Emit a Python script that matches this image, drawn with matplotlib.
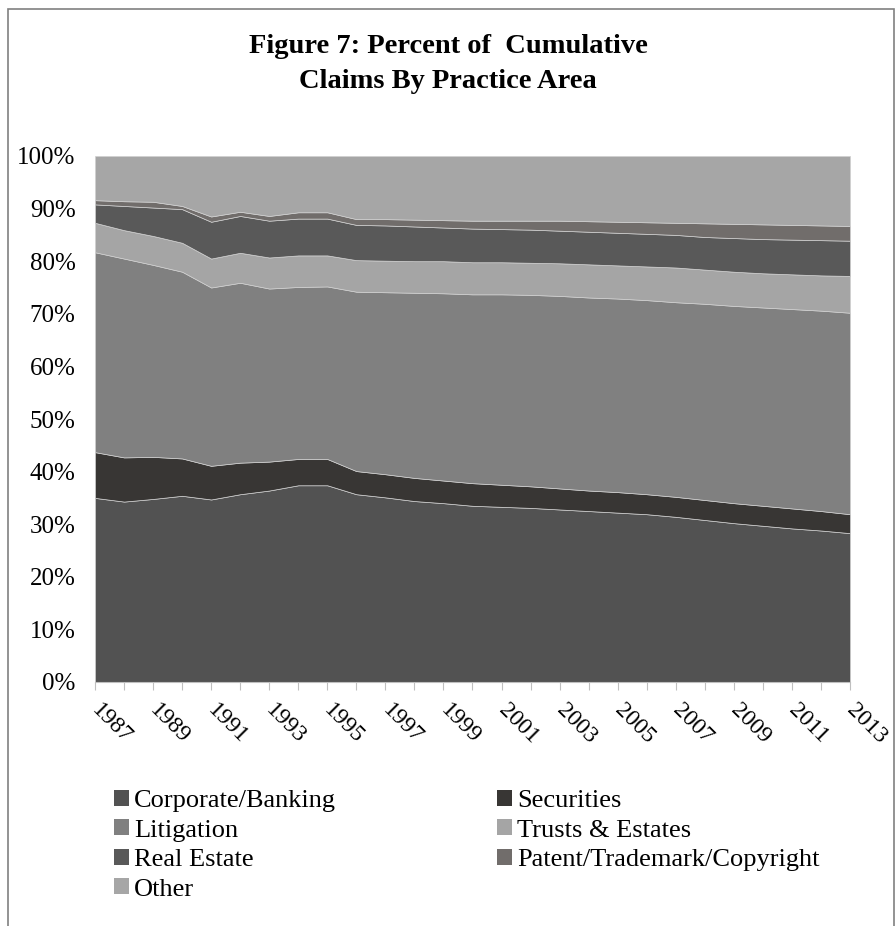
import numpy as np
import matplotlib.pyplot as plt
from matplotlib.patches import Rectangle, Patch

# shares of cumulative claims, percent
years = list(range(1987, 2014))
corporate = [35.0, 34.3, 34.8, 35.4, 34.7, 35.7, 36.4, 37.4, 37.4, 35.7, 35.1, 34.4, 34.0, 33.5,
             33.3, 33.1, 32.8, 32.5, 32.2, 31.9, 31.4, 30.8, 30.2, 29.7, 29.2, 28.8, 28.3]
securities = [8.7, 8.4, 8.0, 7.1, 6.4, 6.0, 5.5, 5.0, 5.0, 4.4, 4.4, 4.4, 4.3, 4.3,
              4.2, 4.1, 4.0, 3.9, 3.9, 3.8, 3.8, 3.8, 3.8, 3.8, 3.8, 3.7, 3.6]
litigation = [38.0, 37.8, 36.5, 35.5, 33.9, 34.2, 32.9, 32.7, 32.8, 34.1, 34.6, 35.2, 35.6, 35.9,
              36.2, 36.4, 36.6, 36.7, 36.8, 36.9, 37.0, 37.3, 37.5, 37.7, 37.9, 38.1, 38.3]
trusts = [5.6, 5.4, 5.5, 5.5, 5.5, 5.7, 5.9, 6.0, 5.9, 6.0, 6.0, 6.0, 6.1, 6.1,
          6.1, 6.1, 6.2, 6.3, 6.3, 6.4, 6.6, 6.5, 6.5, 6.5, 6.6, 6.7, 7.0]
real_estate = [3.5, 4.6, 5.4, 6.4, 7.0, 7.0, 7.0, 7.0, 7.0, 6.7, 6.7, 6.6, 6.4, 6.4,
               6.3, 6.3, 6.2, 6.2, 6.2, 6.2, 6.2, 6.2, 6.4, 6.5, 6.6, 6.7, 6.7]
patent = [0.8, 0.9, 1.1, 0.6, 1.0, 0.8, 0.9, 1.2, 1.2, 1.1, 1.2, 1.3, 1.4, 1.5,
          1.6, 1.7, 1.9, 2.0, 2.1, 2.2, 2.3, 2.6, 2.7, 2.8, 2.8, 2.8, 2.8]
other = [8.4, 8.6, 8.7, 9.5, 11.5, 10.6, 11.4, 10.7, 10.7, 12.0, 12.0, 12.1, 12.2, 12.3,
         12.3, 12.3, 12.3, 12.4, 12.5, 12.6, 12.7, 12.8, 12.9, 13.0, 13.1, 13.2, 13.3]

labels = ['Corporate/Banking', 'Securities', 'Litigation', 'Trusts & Estates',
          'Real Estate', 'Patent/Trademark/Copyright', 'Other']
colors = ['#525252', '#383634', '#808080', '#a5a5a5', '#595959', '#716d6b', '#a6a6a6']

plt.rcParams['font.family'] = ['Liberation Serif', 'DejaVu Serif']

fig = plt.figure(figsize=(8.96, 9.26), dpi=100)
fig.patches.append(Rectangle((8 / 896, -0.01), 886 / 896, 1.0, transform=fig.transFigure,
                             fill=False, edgecolor='#808080', lw=1.2))

ax = fig.add_axes([95 / 896, 1 - 682 / 926, 755 / 896, 526 / 926])
ax.stackplot(years, corporate, securities, litigation, trusts, real_estate, patent, other,
             colors=colors, edgecolor='#d0d0d0', linewidth=0.5)

ax.set_xlim(1987, 2013)
ax.set_ylim(0, 100)
ax.set_yticks(np.arange(0, 101, 10))
ax.set_yticklabels([f'{v}%' for v in range(0, 101, 10)], fontsize=18)
ax.set_xticks(years)
ax.set_xticklabels([str(y) if (y - 1987) % 2 == 0 else '' for y in years],
                   fontsize=17, rotation=-45, ha='left', va='center', rotation_mode='anchor')
ax.tick_params(axis='y', length=0, pad=14)
ax.tick_params(axis='x', length=6, color='#bfbfbf', direction='out', pad=12)
for s in ['top', 'right', 'left']:
    ax.spines[s].set_visible(False)
ax.spines['bottom'].set_color('#bfbfbf')

fig.text(0.5, 1 - 64 / 926, 'Figure 7: Percent of  Cumulative\nClaims By Practice Area',
         ha='center', va='center', fontsize=20.5, fontweight='bold', linespacing=1.5)

handles = [Patch(facecolor=c, edgecolor='none') for c in colors]
kw = dict(loc='upper left', frameon=False, fontsize=19, handlelength=0.55, handleheight=0.55,
          handletextpad=0.2, labelspacing=0.27, borderpad=0, borderaxespad=0)
fig.legend([handles[i] for i in [0, 2, 4, 6]], [labels[i] for i in [0, 2, 4, 6]],
           bbox_to_anchor=(114 / 896, 1 - 790 / 926), **kw)
fig.legend([handles[i] for i in [1, 3, 5]], [labels[i] for i in [1, 3, 5]],
           bbox_to_anchor=(497 / 896, 1 - 790 / 926), **kw)

fig.savefig('out.png', dpi=100)
